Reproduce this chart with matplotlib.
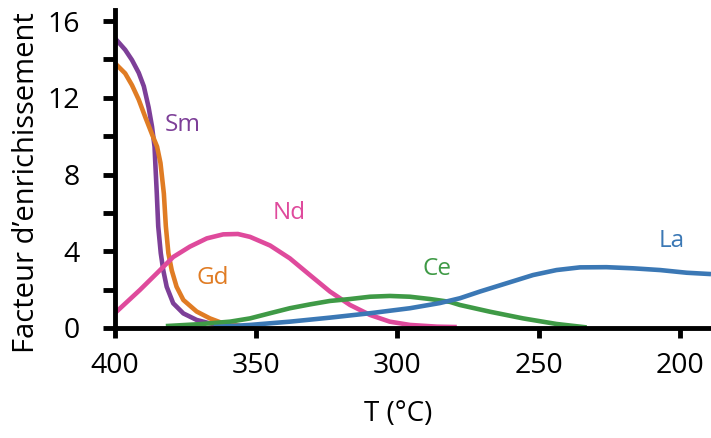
import matplotlib
matplotlib.use('Agg')
import matplotlib.pyplot as plt
from matplotlib.ticker import MultipleLocator

plt.rcParams['font.family'] = ['Open Sans', 'DejaVu Sans']

# values (T in degC, enrichment factor)
sm_t = [400, 396.4, 394, 391.6, 389.8, 388.1, 386.9, 386, 385.7, 385.2, 384.7, 383.8,
        382.9, 381.7, 379.4, 375.8, 371.1, 366.4, 361.8]
sm_f = [15.1, 14.5, 13.97, 13.3, 12.6, 11.5, 10.5, 9.45, 8.5, 7.0, 5.3, 3.9,
        3.0, 2.15, 1.29, 0.76, 0.42, 0.24, 0.12]

gd_t = [400, 396.4, 394, 391.6, 389.3, 386.9, 385.1, 383.9, 382.7, 382, 381.1, 379.9,
        378.2, 375.8, 371.1, 366.4, 361.7, 355.8]
gd_f = [13.8, 13.27, 12.66, 11.9, 11.0, 10.1, 9.45, 8.6, 7.0, 5.3, 3.9, 3.0,
        2.15, 1.46, 0.86, 0.5, 0.24, 0.12]

nd_t = [400, 391.2, 385.2, 379.4, 373.5, 367.5, 361.7, 356.5, 352.2, 345.1, 338.1, 331,
        323.9, 316.8, 309.7, 302.7, 295.6, 286, 279]
nd_f = [0.78, 1.98, 2.85, 3.7, 4.24, 4.67, 4.88, 4.9, 4.75, 4.3, 3.63, 2.76,
        1.9, 1.2, 0.68, 0.33, 0.16, 0.07, 0.05]

ce_t = [382, 370, 359.3, 352.2, 345.1, 338.1, 331, 323.9, 316.8, 309.7, 302.7, 295.6,
        288.5, 281.4, 277.9, 267.3, 255.5, 243.7, 233]
ce_f = [0.1, 0.2, 0.33, 0.5, 0.77, 1.03, 1.23, 1.41, 1.51, 1.63, 1.67, 1.63,
        1.51, 1.36, 1.2, 0.85, 0.5, 0.21, 0.03]

la_t = [365, 352.2, 338.1, 323.9, 309.7, 295.6, 285, 277.9, 270.8, 261.4, 252, 243.7,
        235.4, 226, 216.5, 207, 197.6, 189]
la_f = [0.05, 0.16, 0.33, 0.54, 0.77, 1.03, 1.3, 1.55, 1.9, 2.33, 2.76, 3.02,
        3.16, 3.17, 3.11, 3.02, 2.88, 2.81]

series = [
    ('Sm', sm_t, sm_f, '#7d3f98', (375.9, 10.6)),
    ('Gd', gd_t, gd_f, '#e07c24', (365.3, 2.6)),
    ('Nd', nd_t, nd_f, '#df4a9c', (338.4, 6.0)),
    ('Ce', ce_t, ce_f, '#3f9a46', (286.0, 3.07)),
    ('La', la_t, la_f, '#3b78b5', (202.8, 4.53)),
]

fig = plt.figure(figsize=(7.11, 4.38), dpi=100)
ax = fig.add_axes([115 / 711, 110 / 438, 596 / 711, 318.5 / 438])

for name, t, f, col, pos in series:
    ax.plot(t, f, color=col, lw=3.3, solid_capstyle='butt', solid_joinstyle='round', zorder=2)
    ax.text(pos[0], pos[1], name, color=col, fontsize=17.5, ha='center', va='center')

ax.set_xlim(400, 189)
ax.set_ylim(0, 16.6)
ax.xaxis.set_major_locator(MultipleLocator(50))
ax.yaxis.set_major_locator(MultipleLocator(4))
ax.yaxis.set_minor_locator(MultipleLocator(2))

for side in ['top', 'right']:
    ax.spines[side].set_visible(False)
for side in ['left', 'bottom']:
    ax.spines[side].set_linewidth(3.5)
    ax.spines[side].set_zorder(3)

ax.tick_params(axis='y', which='both', direction='out', length=8.5, width=3.5,
               labelsize=20.5, pad=17)
ax.tick_params(axis='x', which='major', direction='out', length=7.5, width=3.5,
               labelsize=20.5, pad=10)

ax.set_xlabel('T (°C)', fontsize=20)
ax.xaxis.set_label_coords(0.475, -0.225)
ax.set_ylabel('Facteur d\u2019enrichissement', fontsize=21, va='center')
ax.yaxis.set_label_coords(-0.149, 0.455)

fig.savefig('out.png', dpi=100)
